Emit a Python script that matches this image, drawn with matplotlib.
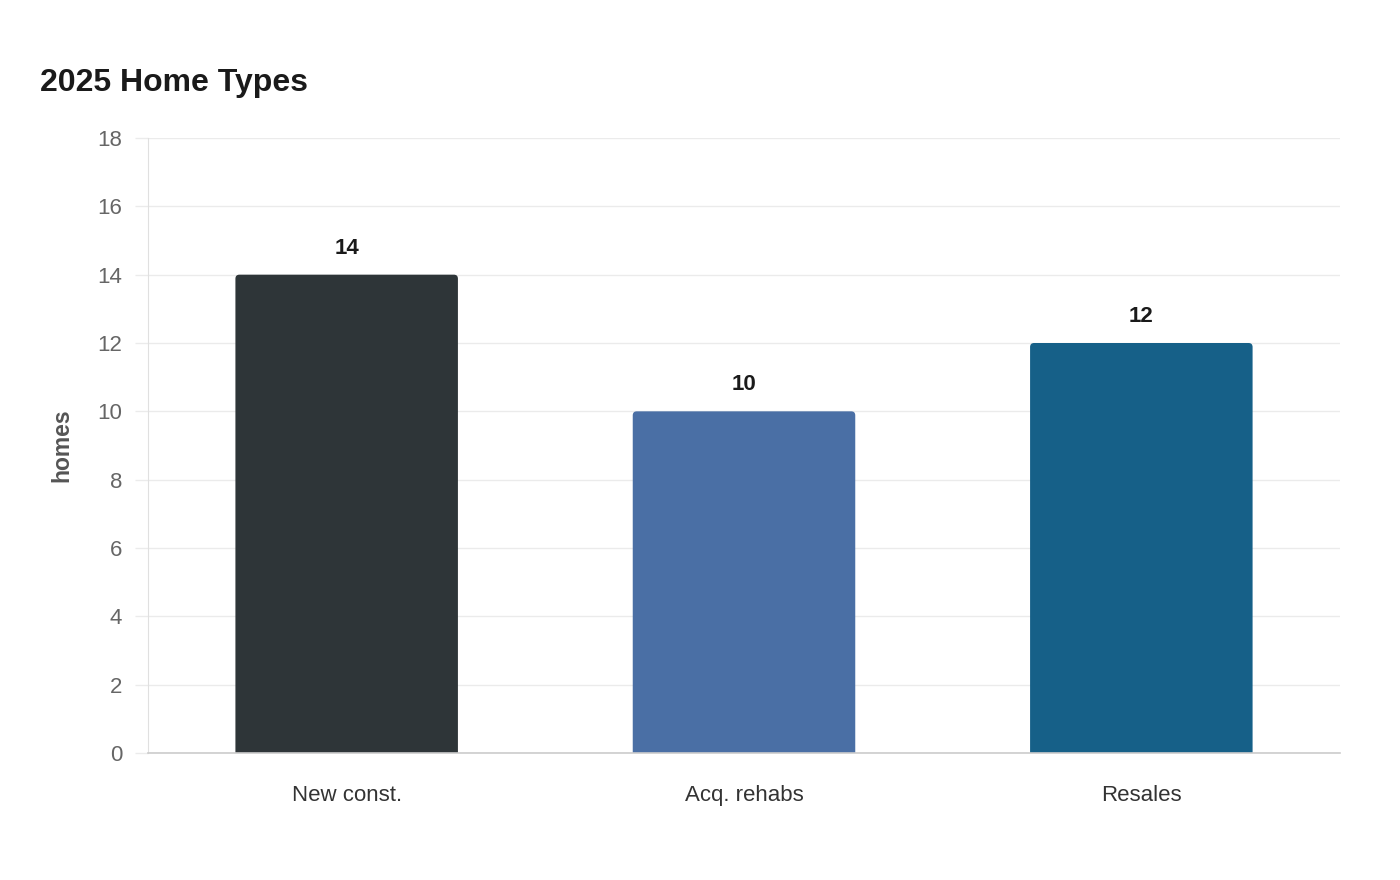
import numpy as np
import matplotlib.pyplot as plt
from matplotlib.patches import FancyBboxPatch

## Data
categories = ['New const.', 'Acq. rehabs', 'Resales']
homes = [14, 10, 12]
colors = ['#2e3538', '#4a6fa5', '#166088']

plt.rcParams['font.family'] = ['Liberation Sans', 'DejaVu Sans']

fig = plt.figure(figsize=(14, 8.8), dpi=100)
ax = fig.add_axes([148/1400, 1 - 753/880, (1340-148)/1400, (753-138)/880])

x = np.arange(len(categories))
width = 0.56
bars = ax.bar(x, homes, width=width, color='none')

ax.set_xlim(-0.5, len(categories) - 0.5)
ax.set_ylim(0, 18)

# rounded top corners; box starts below 0 so the bottom gets clipped square
ppx = 397.3  # px per x unit
ppy = 615 / 18  # px per y unit
r = 4 / ppx
for b, c in zip(bars, colors):
    x0, w, h = b.get_x(), b.get_width(), b.get_height()
    ax.add_patch(FancyBboxPatch((x0, -1), w, h + 1, boxstyle='round,pad=0,rounding_size=%f' % r,
                                mutation_aspect=ppx/ppy, fc=c, ec='none', zorder=3))
    ax.annotate(str(int(h)), (b.get_x() + w/2, h), xytext=(0, 19), textcoords='offset points',
                ha='center', va='center', fontsize=16, fontweight='bold', color='#1a1a1a', zorder=4)

ax.set_yticks(np.arange(0, 19, 2))
ax.grid(axis='y', color='#ebebeb', linewidth=1, zorder=0)
ax.set_axisbelow(True)
ax.tick_params(axis='y', length=9.5, width=1, color='#ebebeb', pad=9, labelsize=16, labelcolor='#666666')
ax.tick_params(axis='x', length=0, pad=23, labelsize=16, labelcolor='#333333')
ax.set_xticks(x)
ax.set_xticklabels(categories)

for s in ['top', 'right']:
    ax.spines[s].set_visible(False)
ax.spines['left'].set_color('#e0e0e0')
ax.spines['bottom'].set_color('#cccccc')
ax.spines['bottom'].set_linewidth(1.2)
ax.spines['bottom'].set_zorder(5)

ax.set_ylabel('homes', fontsize=16.5, fontweight='bold', color='#555555', va='center')
ax.yaxis.set_label_coords((62 - 148) / 1192, 0.5)

fig.text(40/1400, 1 - 83/880, '2025 Home Types', fontsize=23, fontweight='bold',
         color='#1a1a1a', ha='left', va='center')

fig.savefig('out.png', dpi=100, facecolor='white')
